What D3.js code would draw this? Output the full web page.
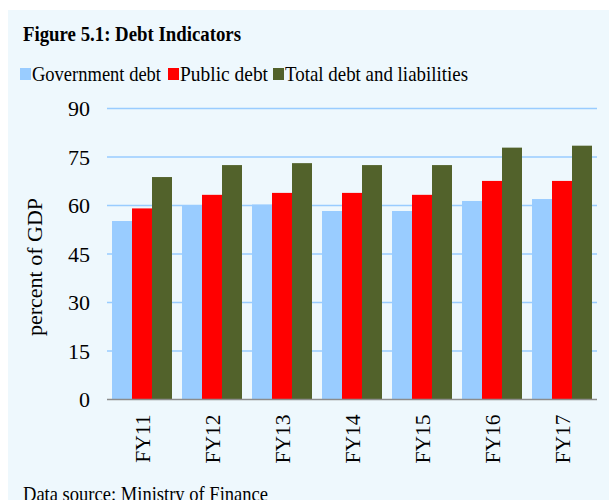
<!DOCTYPE html>
<html><head><meta charset="utf-8">
<script src="https://cdn.jsdelivr.net/npm/d3@7"></script>
<style>body{margin:0;background:#fff}svg{display:block}</style>
</head><body>
<script>
const categories = ["FY11","FY12","FY13","FY14","FY15","FY16","FY17"];
const seriesNames = ["Government debt","Public debt","Total debt and liabilities"];
const govDebt = [55.2, 60.0, 60.3, 58.3, 58.3, 61.4, 62.0];
const publicDebt = [59.1, 63.3, 63.9, 63.9, 63.3, 67.6, 67.6];
const totalDebt = [68.8, 72.5, 73.1, 72.5, 72.5, 77.9, 78.5];
const yTicks = [0, 15, 30, 45, 60, 75, 90];
const colors = ["#99ccff", "#ff0000", "#52622b"];

const W = 609, H = 500;
const svg = d3.select("body").append("svg").attr("width", W).attr("height", H);
svg.append("rect").attr("x", 8).attr("y", 10).attr("width", W - 8).attr("height", H - 10).attr("fill", "#eef8fd");

const font = "'Liberation Serif', 'Times New Roman', serif";
const x0 = d3.scaleBand().domain(categories).range([107, 597]).paddingInner(10/70).paddingOuter(5/70);
const x1 = d3.scaleBand().domain(d3.range(3)).range([0, x0.bandwidth()]);
const y = d3.scaleLinear().domain([0, 90]).range([399.5, 108.5]);

// gridlines
svg.append("g").selectAll("line").data(yTicks.filter(d => d > 0)).join("line")
  .attr("x1", 107).attr("x2", 597).attr("y1", d => y(d)).attr("y2", d => y(d))
  .attr("stroke", "#99ccff").attr("stroke-width", 1.5);

// y axis labels
const yAxis = d3.axisLeft(y).tickValues(yTicks).tickSize(0).tickPadding(0);
const ga = svg.append("g").attr("transform", "translate(90,0)").call(yAxis);
ga.select(".domain").remove();
ga.selectAll("text").attr("font-family", font).attr("font-size", 22).attr("fill", "#000").attr("dy", "0.32em");

// bars
const series = [govDebt, publicDebt, totalDebt];
const groups = svg.append("g").selectAll("g").data(categories).join("g")
  .attr("transform", d => `translate(${x0(d)},0)`);
groups.selectAll("rect").data((c, i) => series.map((s, k) => ({k, v: s[i]}))).join("rect")
  .attr("x", d => x1(d.k)).attr("width", x1.bandwidth())
  .attr("y", d => y(d.v)).attr("height", d => y(0) - y(d.v))
  .attr("fill", d => colors[d.k]);

// baseline
svg.append("line").attr("x1", 107).attr("x2", 597).attr("y1", y(0)).attr("y2", y(0))
  .attr("stroke", "#8c8c8c").attr("stroke-width", 1.5);

// x axis labels
const xAxis = d3.axisBottom(x0).tickSize(0).tickPadding(0);
const gx = svg.append("g").attr("transform", `translate(0,${y(0)})`).call(xAxis);
gx.select(".domain").remove();
gx.selectAll("text").attr("font-family", font).attr("font-size", 21.5).attr("fill", "#000")
  .attr("transform", "rotate(-90)").attr("text-anchor", "end").attr("x", -15).attr("y", 0).attr("dy", "0.35em");

// y title
svg.append("text").attr("transform", "translate(42,267) rotate(-90)").attr("text-anchor", "middle")
  .attr("font-family", font).attr("font-size", 22).text("percent of GDP");

// title
svg.append("text").attr("x", 23).attr("y", 41).attr("font-family", font).attr("font-size", 20)
  .attr("font-weight", "bold").attr("textLength", 218).attr("lengthAdjust", "spacingAndGlyphs")
  .text("Figure 5.1: Debt Indicators");

// legend
const legX = [20, 168, 273];
const legTextLen = [129, 88, 183];
const leg = svg.append("g").selectAll("g").data(seriesNames).join("g")
  .attr("transform", (d, i) => `translate(${legX[i]},68)`);
leg.append("rect").attr("width", 11).attr("height", 12).attr("fill", (d, i) => colors[i]);
leg.append("text").attr("x", 12).attr("y", 13).attr("font-family", font).attr("font-size", 22)
  .attr("textLength", (d, i) => legTextLen[i]).attr("lengthAdjust", "spacingAndGlyphs").text(d => d);

// footer
svg.append("text").attr("x", 23).attr("y", 501).attr("font-family", font).attr("font-size", 22)
  .attr("textLength", 245).attr("lengthAdjust", "spacingAndGlyphs")
  .text("Data source: Ministry of Finance");
</script>
</body></html>
